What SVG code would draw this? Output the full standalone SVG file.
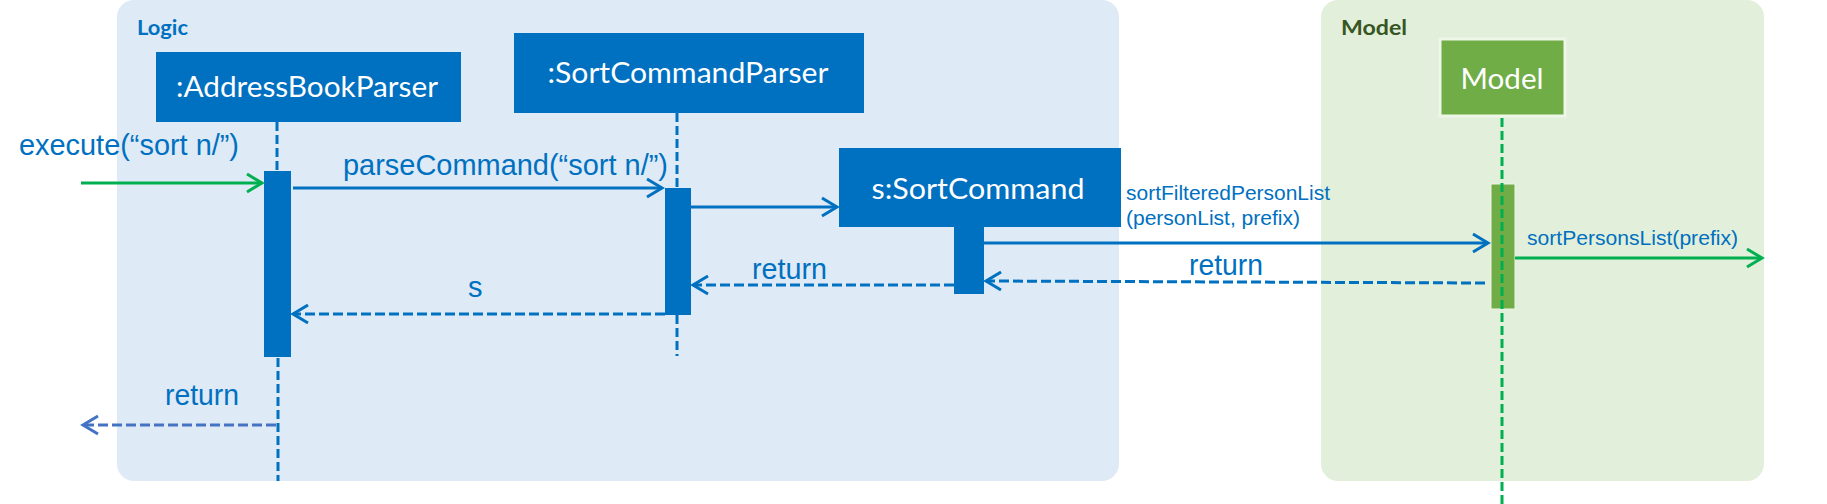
<svg xmlns="http://www.w3.org/2000/svg" width="1827" height="504" viewBox="0 0 1827 504">
<style>
.panel-logic{fill:#DEEAF6}
.panel-model{fill:#E2EFDA}
.ptitle{font-family:Lato,"Liberation Sans",sans-serif;font-weight:bold;font-size:21px}
.box{fill:#0070C0}
.boxtxt{font-family:Lato,"Open Sans","Liberation Sans",sans-serif;font-size:28px;fill:#FFFFFF;text-anchor:middle}
.lbl{font-family:"Liberation Sans",Arial,sans-serif;font-size:29px;fill:#0070C0}
.small{font-family:"Liberation Sans",Arial,sans-serif;font-size:20px;fill:#0070C0}
.life{stroke:#0070C0;stroke-width:3;stroke-dasharray:9 4;fill:none}
.life-g{stroke:#00B050;stroke-width:3;stroke-dasharray:9 4;fill:none}
.msg{stroke:#0070C0;stroke-width:3;fill:none}
.msg-g{stroke:#00B050;stroke-width:3;fill:none}
.ret{stroke:#0070C0;stroke-width:3;stroke-dasharray:10 4;fill:none}
.ret2{stroke:#4472C4;stroke-width:3;stroke-dasharray:10 4;fill:none}
</style>
<defs>
<marker id="ab" markerUnits="userSpaceOnUse" markerWidth="20" markerHeight="22" viewBox="0 0 20 22" refX="17" refY="11" orient="auto">
<path d="M2,2 L17,11 L2,20" fill="none" stroke="#0070C0" stroke-width="3"/>
</marker>
<marker id="ag" markerUnits="userSpaceOnUse" markerWidth="20" markerHeight="22" viewBox="0 0 20 22" refX="17" refY="11" orient="auto">
<path d="M2,2 L17,11 L2,20" fill="none" stroke="#00B050" stroke-width="3"/>
</marker>
<marker id="ar" markerUnits="userSpaceOnUse" markerWidth="20" markerHeight="22" viewBox="0 0 20 22" refX="17" refY="11" orient="auto">
<path d="M2,2 L17,11 L2,20" fill="none" stroke="#4472C4" stroke-width="3"/>
</marker>
</defs>

<g id="logic-panel">
<rect class="panel-logic" x="117" y="0" width="1002" height="481" rx="17"/>
<text class="ptitle" x="137" y="35" fill="#0070C0" textLength="51" lengthAdjust="spacingAndGlyphs">Logic</text>
</g>
<g id="model-panel">
<rect class="panel-model" x="1321" y="0" width="443" height="481" rx="17"/>
<text class="ptitle" x="1341" y="35" fill="#375623" textLength="66" lengthAdjust="spacingAndGlyphs">Model</text>
</g>

<g id="lifelines">
<line class="life" x1="277" y1="122" x2="277" y2="170"/>
<line class="life" x1="278" y1="358" x2="278" y2="481"/>
<line class="life" x1="677" y1="113" x2="677" y2="188"/>
<line class="life" x1="677" y1="315" x2="677" y2="356"/>
</g>

<g id="addressBookParser">
<rect class="box" x="156" y="52" width="305" height="70"/>
<text class="boxtxt" x="307" y="97" textLength="262" lengthAdjust="spacingAndGlyphs">:AddressBookParser</text>
<rect class="box" x="264" y="171" width="27" height="186"/>
</g>

<g id="sortCommandParser">
<rect class="box" x="514" y="33" width="350" height="80"/>
<text class="boxtxt" x="688" y="83" textLength="281" lengthAdjust="spacingAndGlyphs">:SortCommandParser</text>
<rect class="box" x="665" y="188" width="26" height="127"/>
</g>

<g id="sortCommand">
<rect class="box" x="839" y="148" width="282" height="79"/>
<text class="boxtxt" x="978" y="199" textLength="213" lengthAdjust="spacingAndGlyphs">s:SortCommand</text>
<rect class="box" x="954" y="226" width="30" height="68"/>
</g>

<g id="model">
<rect x="1440" y="39" width="125" height="77" fill="#70AD47" stroke="#EEF6E8" stroke-width="3"/>
<text class="boxtxt" x="1502" y="89" font-size="30" textLength="83" lengthAdjust="spacingAndGlyphs">Model</text>
<rect x="1491" y="184" width="24" height="125" fill="#70AD47" stroke="#EEF6E8" stroke-width="1"/>
<line class="life-g" x1="1502" y1="118" x2="1502" y2="504"/>
</g>

<g id="connectors">
<line class="msg-g" x1="81" y1="183" x2="262" y2="183" marker-end="url(#ag)"/>
<line class="msg" x1="293" y1="188" x2="662" y2="188" marker-end="url(#ab)"/>
<line class="msg" x1="691" y1="207" x2="837" y2="207" marker-end="url(#ab)"/>
<line class="msg" x1="984" y1="243" x2="1488" y2="243" marker-end="url(#ab)"/>
<line class="msg-g" x1="1515" y1="258" x2="1762" y2="258" marker-end="url(#ag)"/>
<line class="ret" x1="1485" y1="283" x2="986" y2="281" marker-end="url(#ab)"/>
<line class="ret" x1="954" y1="285" x2="693" y2="285" marker-end="url(#ab)"/>
<line class="ret" x1="665" y1="314" x2="293" y2="314" marker-end="url(#ab)"/>
<line class="ret2" x1="276" y1="425" x2="83" y2="425" marker-end="url(#ar)"/>
</g>

<g id="labels">
<text class="lbl" x="19" y="155" textLength="220" lengthAdjust="spacingAndGlyphs">execute(“sort n/”)</text>
<text class="lbl" x="343" y="175" textLength="325" lengthAdjust="spacingAndGlyphs">parseCommand(“sort n/”)</text>
<text class="small" x="1126" y="200" textLength="204" lengthAdjust="spacingAndGlyphs">sortFilteredPersonList</text>
<text class="small" x="1126" y="225" textLength="174" lengthAdjust="spacingAndGlyphs">(personList, prefix)</text>
<text class="small" x="1527" y="245" textLength="211" lengthAdjust="spacingAndGlyphs">sortPersonsList(prefix)</text>
<text class="lbl" x="1189" y="275" textLength="74" lengthAdjust="spacingAndGlyphs">return</text>
<text class="lbl" x="752" y="279" textLength="75" lengthAdjust="spacingAndGlyphs">return</text>
<text class="lbl" x="468" y="297">s</text>
<text class="lbl" x="165" y="405" textLength="74" lengthAdjust="spacingAndGlyphs">return</text>
</g>
</svg>
